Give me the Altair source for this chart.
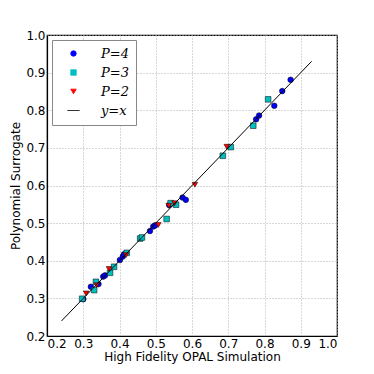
import altair as alt
import pandas as pd

# P=4 (blue circles)
p4_x = [0.300, 0.321, 0.342, 0.355, 0.360, 0.401, 0.409, 0.412, 0.484, 0.493, 0.498, 0.537, 0.574, 0.583, 0.777, 0.785, 0.827, 0.849, 0.872]
p4_y = [0.298, 0.331, 0.338, 0.358, 0.361, 0.402, 0.411, 0.417, 0.479, 0.491, 0.494, 0.548, 0.568, 0.562, 0.776, 0.786, 0.812, 0.851, 0.881]
# P=3 (cyan squares)
p3_x = [0.297, 0.330, 0.335, 0.374, 0.385, 0.420, 0.457, 0.462, 0.530, 0.541, 0.556, 0.685, 0.707, 0.769, 0.810]
p3_y = [0.299, 0.322, 0.344, 0.368, 0.384, 0.421, 0.459, 0.462, 0.511, 0.553, 0.549, 0.679, 0.702, 0.759, 0.829]
# P=2 (red triangles)
p2_x = [0.308, 0.337, 0.371, 0.418, 0.507, 0.536, 0.552, 0.608, 0.696]
p2_y = [0.313, 0.335, 0.378, 0.415, 0.495, 0.546, 0.553, 0.602, 0.703]
# y = x reference line
line_x = [0.24, 0.93]

series_names = ["P=4", "P=3", "P=2", "y=x"]
series_colors = ["#0000ff", "#00bfbf", "#ff0000", "#000000"]
series_shapes = ["circle", "square", "triangle-down", "M-2.25,0H2.25"]
ticks = [0.2, 0.3, 0.4, 0.5, 0.6, 0.7, 0.8, 0.9, 1.0]

rows = []
for name, xs, ys in [("P=4", p4_x, p4_y), ("P=3", p3_x, p3_y), ("P=2", p2_x, p2_y)]:
    for a, b in zip(xs, ys):
        rows.append({"x": a, "y": b, "series": name})
points = pd.DataFrame(rows)
line = pd.DataFrame({"x": line_x, "y": line_x, "series": ["y=x"] * len(line_x)})

xscale = alt.Scale(domain=[0.2, 1.0], nice=False, zero=False)
yscale = alt.Scale(domain=[0.2, 1.0], nice=False, zero=False)
xaxis = alt.Axis(values=ticks, format=".1f", title="High Fidelity OPAL Simulation",
                 labelPadding=2, titlePadding=2)
yaxis = alt.Axis(values=ticks, format=".1f", title="Polynomial Surrogate",
                 labelPadding=2, titlePadding=3)

cscale = alt.Scale(domain=series_names, range=series_colors)
sscale = alt.Scale(domain=series_names, range=series_shapes)

legend = alt.Legend(title=None, orient="top-left", offset=5)

pts = alt.Chart(points).mark_point(filled=True, size=32, stroke="black", strokeWidth=0.5, opacity=1).encode(
    x=alt.X("x:Q", scale=xscale, axis=xaxis),
    y=alt.Y("y:Q", scale=yscale, axis=yaxis),
    color=alt.Color("series:N", scale=cscale, legend=legend, sort=series_names),
    shape=alt.Shape("series:N", scale=sscale, legend=legend, sort=series_names),
)

ln = alt.Chart(line).mark_line(strokeWidth=1, color="black").encode(
    x=alt.X("x:Q", scale=xscale, axis=xaxis),
    y=alt.Y("y:Q", scale=yscale, axis=yaxis),
    color=alt.Color("series:N", scale=cscale, legend=None, sort=series_names),
)

chart = alt.layer(pts, ln).properties(
    width=290, height=301,
    autosize=alt.AutoSizeParams(type="none"),
    padding={"left": 39, "top": 27, "right": 20, "bottom": 35},
).configure_view(
    stroke="black", strokeWidth=1.2
).configure_axis(
    domainColor="black", domainWidth=1.2,
    grid=True, gridColor="#b0b0b0", gridDash=[1, 2], gridWidth=1,
    ticks=False,
    labelFont="DejaVu Sans", labelFontSize=12, labelColor="black",
    titleFont="DejaVu Sans", titleFontSize=12, titleFontWeight="normal", titleColor="black",
).configure_legend(
    strokeColor="#888888", fillColor="white", padding=7, rowPadding=5,
    symbolSize=30, symbolOffset=8,
    symbolStrokeWidth=0.8, symbolStrokeColor="black", labelOffset=21,
    labelFont="DejaVu Serif", labelFontStyle="italic", labelFontSize=13, labelColor="black",
    cornerRadius=0,
)

chart.save("out.html", embed_options={"renderer": "svg", "actions": False})
